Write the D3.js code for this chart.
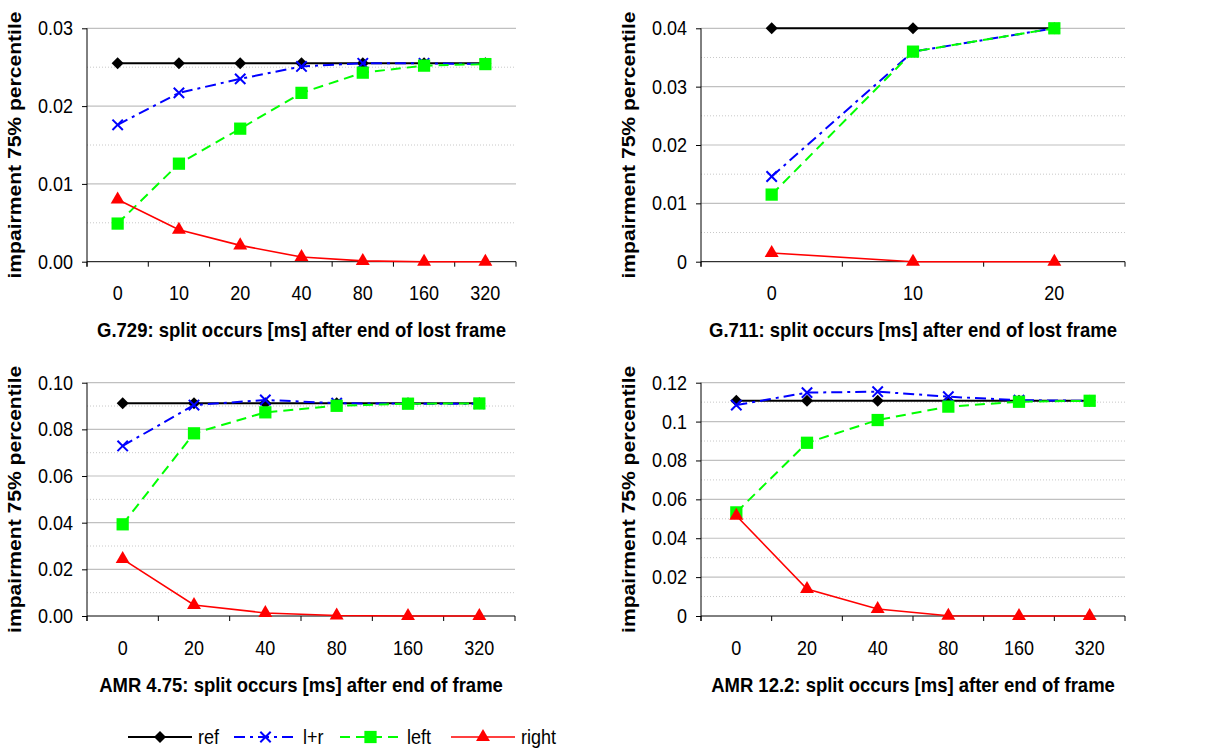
<html>
<head>
  <meta charset="UTF-8">
  <title>impairment 75% percentile</title>
  <script src="https://cdn.jsdelivr.net/npm/d3@7"></script>
  <style>
    body { margin: 0; background: #fff; }
    svg text { font-family: "Liberation Sans", Arial, sans-serif; fill: #000; }
  </style>
</head>
<body>
<svg id="chart" width="1211" height="754"></svg>
<script>
// ---------------- data ----------------
const seriesNames = ["ref", "l+r", "left", "right"];

const g729Cats  = ["0", "10", "20", "40", "80", "160", "320"];
const g729Ref   = [0.0255, 0.0255, 0.0255, 0.0255, 0.0255, 0.0255, 0.0255];
const g729LR    = [0.0176, 0.0217, 0.0235, 0.0251, 0.0255, 0.0255, 0.0254];
const g729Left  = [0.0049, 0.0126, 0.0171, 0.0217, 0.0243, 0.0252, 0.0254];
const g729Right = [0.0080, 0.0041, 0.0021, 0.0006, 0.0001, 0.0000, 0.0000];

const g711Cats  = ["0", "10", "20"];
const g711Ref   = [0.0400, 0.0400, 0.0400];
const g711LR    = [0.0146, 0.0360, 0.0400];
const g711Left  = [0.0115, 0.0360, 0.0400];
const g711Right = [0.0015, 0.0000, 0.0000];

const amr475Cats  = ["0", "20", "40", "80", "160", "320"];
const amr475Ref   = [0.0912, 0.0912, 0.0912, 0.0912, 0.0912, 0.0912];
const amr475LR    = [0.0729, 0.0904, 0.0926, 0.0912, 0.0910, 0.0910];
const amr475Left  = [0.0393, 0.0783, 0.0873, 0.0901, 0.0910, 0.0911];
const amr475Right = [0.0244, 0.0047, 0.0013, 0.0002, 0.0000, 0.0000];

const amr122Cats  = ["0", "20", "40", "80", "160", "320"];
const amr122Ref   = [0.1107, 0.1107, 0.1107, 0.1107, 0.1107, 0.1107];
const amr122LR    = [0.1085, 0.1149, 0.1154, 0.1128, 0.1110, 0.1107];
const amr122Left  = [0.0533, 0.0891, 0.1008, 0.1077, 0.1102, 0.1107];
const amr122Right = [0.0516, 0.0139, 0.0036, 0.0001, 0.0000, 0.0000];

const g729Ticks   = [0, 0.01, 0.02, 0.03];
const g711Ticks   = [0, 0.01, 0.02, 0.03, 0.04];
const amr475Ticks = [0, 0.02, 0.04, 0.06, 0.08, 0.10];
const amr122Ticks = [0, 0.02, 0.04, 0.06, 0.08, 0.1, 0.12];

const xTitles = [
  "G.729: split occurs [ms] after end of lost frame",
  "G.711: split occurs [ms] after end of lost frame",
  "AMR 4.75: split occurs [ms] after end of frame",
  "AMR 12.2: split occurs [ms] after end of frame"
];
const yTitle = "impairment 75% percentile";

// ---------------- styles ----------------
const styles = {
  "ref":   { color: "#000000", width: 2,   dash: null,         symbol: "diamond" },
  "l+r":   { color: "#0000ff", width: 2,   dash: "11,5,3,5",   symbol: "x" },
  "left":  { color: "#00ff00", width: 2,   dash: "10,6",       symbol: "square" },
  "right": { color: "#ff0000", width: 1.6, dash: null,         symbol: "triangle" }
};
// the original picture is stretched a little vertically
const STRETCH = 1.11;

const fixed2 = d3.format(".2f");
const general = d => String(+d.toFixed(4));

const panels = [
  { cats: g729Cats, series: [g729Ref, g729LR, g729Left, g729Right], ticks: g729Ticks, fmt: fixed2,
    x0: 87, x1: 516, y0: 28.3, y1: 261.7, title: xTitles[0] },
  { cats: g711Cats, series: [g711Ref, g711LR, g711Left, g711Right], ticks: g711Ticks, fmt: general,
    x0: 701, x1: 1125, y0: 28.3, y1: 261.7, title: xTitles[1] },
  { cats: amr475Cats, series: [amr475Ref, amr475LR, amr475Left, amr475Right], ticks: amr475Ticks, fmt: fixed2,
    x0: 87, x1: 515, y0: 382.7, y1: 616, title: xTitles[2] },
  { cats: amr122Cats, series: [amr122Ref, amr122LR, amr122Left, amr122Right], ticks: amr122Ticks, fmt: general,
    x0: 701, x1: 1125, y0: 382.7, y1: 616, title: xTitles[3] }
];

const svg = d3.select("#chart");

function marker(sel, name) {
  const st = styles[name];
  if (st.symbol === "diamond") {
    sel.attr("d", d3.symbol(d3.symbolSquare, 72)()).attr("fill", st.color)
      .attr("data-rot", "45");
  } else if (st.symbol === "square") {
    sel.attr("d", d3.symbol(d3.symbolSquare, 150)()).attr("fill", st.color);
  } else if (st.symbol === "triangle") {
    sel.attr("d", d3.symbol(d3.symbolTriangle, 84)()).attr("fill", st.color);
  } else {
    sel.attr("d", d3.symbol(d3.symbolX, 72)()).attr("fill", "none")
      .attr("stroke", st.color).attr("stroke-width", 2);
  }
}

function place(sel, x, y) {
  const rot = sel.attr("data-rot") ? " rotate(" + sel.attr("data-rot") + ")" : "";
  sel.attr("transform", "translate(" + x + "," + y + ")" + rot);
}

// text drawn at (x, y) with the vertical stretch of the source image
function stretchedText(parent, x, y, str, size, bold, anchor) {
  return parent.append("text")
    .attr("transform", "translate(" + x + "," + y + ") scale(1," + STRETCH + ")")
    .attr("text-anchor", anchor || "start")
    .style("font-size", size + "px")
    .style("font-weight", bold ? "bold" : "normal")
    .text(str);
}

//-----------------------------------------
panels.forEach(function (p) {
  const g = svg.append("g");
  const x = d3.scaleBand().domain(p.cats).range([p.x0, p.x1]).padding(0);
  const top = p.ticks[p.ticks.length - 1];
  const y = d3.scaleLinear().domain([0, top]).range([p.y1, p.y0]);

  // minor dotted gridlines
  const step = p.ticks[1] - p.ticks[0];
  const minor = p.ticks.slice(0, -1).map(t => t + step / 2);
  g.selectAll(".minor").data(minor).enter().append("line")
    .attr("x1", p.x0).attr("x2", p.x1)
    .attr("y1", d => y(d)).attr("y2", d => y(d))
    .attr("stroke", "#c8c8c8").attr("stroke-width", 1).attr("stroke-dasharray", "1,2");

  // major gridlines
  g.selectAll(".major").data(p.ticks.slice(1)).enter().append("line")
    .attr("x1", p.x0).attr("x2", p.x1)
    .attr("y1", d => y(d)).attr("y2", d => y(d))
    .attr("stroke", "#c0c0c0").attr("stroke-width", 1.2);

  // y axis
  const yAxis = g.append("g").attr("transform", "translate(" + p.x0 + ",0)")
    .call(d3.axisLeft(y).tickValues(p.ticks).tickFormat("").tickSize(5));
  yAxis.select(".domain").attr("stroke", "#000").attr("d", "M0," + p.y0 + "V" + (p.y1 + 5));
  p.ticks.forEach(function (t) {
    stretchedText(g, p.x0 - 14, y(t) + 7, p.fmt(t), 18, false, "end");
  });

  // x axis
  const xAxis = g.append("g").attr("transform", "translate(0," + p.y1 + ")")
    .call(d3.axisBottom(x).tickSize(0).tickFormat(""));
  xAxis.select(".domain").attr("stroke", "#000").attr("d", "M" + p.x0 + ",0H" + p.x1);
  const bounds = p.cats.map(c => x(c)).concat([p.x1]);
  g.selectAll(".xt").data(bounds).enter().append("line")
    .attr("x1", d => d).attr("x2", d => d)
    .attr("y1", p.y1).attr("y2", p.y1 + 5)
    .attr("stroke", "#000");
  p.cats.forEach(function (c) {
    stretchedText(g, x(c) + x.bandwidth() / 2, p.y1 + 38.5, c, 18, false, "middle");
  });

  // titles
  stretchedText(g, (p.x0 + p.x1) / 2, p.y1 + 75.5, p.title, 18.5, true, "middle");
  g.append("text")
    .attr("transform", "translate(" + (p.x0 - 66) + "," + ((p.y0 + p.y1) / 2) + ") rotate(-90) scale(" + STRETCH + ",1)")
    .attr("text-anchor", "middle")
    .style("font-size", "19px").style("font-weight", "bold")
    .text(yTitle);

  // series
  const cx = c => x(c) + x.bandwidth() / 2;
  p.series.forEach(function (vals, i) {
    const name = seriesNames[i];
    const st = styles[name];
    const pts = vals.map((v, j) => [cx(p.cats[j]), y(v)]);
    g.append("path")
      .attr("d", d3.line()(pts))
      .attr("fill", "none")
      .attr("stroke", st.color)
      .attr("stroke-width", st.width)
      .attr("stroke-dasharray", st.dash);
    g.selectAll(".m" + i).data(pts).enter().append("path")
      .call(marker, name)
      .each(function (d) { place(d3.select(this), d[0], d[1]); });
  });
});

// ---------------- legend ----------------
const legendItems = [
  { name: "ref",   x1: 128, x2: 192 },
  { name: "l+r",   x1: 234, x2: 297 },
  { name: "left",  x1: 340, x2: 401 },
  { name: "right", x1: 451, x2: 515 }
];
const ly = 737;
const lg = svg.append("g");
legendItems.forEach(function (it) {
  const st = styles[it.name];
  lg.append("line")
    .attr("x1", it.x1).attr("x2", it.x2).attr("y1", ly).attr("y2", ly)
    .attr("stroke", st.color).attr("stroke-width", st.width)
    .attr("stroke-dasharray", st.dash);
  lg.append("path").call(marker, it.name)
    .each(function () { place(d3.select(this), (it.x1 + it.x2) / 2, ly); });
  stretchedText(lg, it.x2 + 6, ly + 7, it.name, 18, false, "start");
});
</script>
</body>
</html>
